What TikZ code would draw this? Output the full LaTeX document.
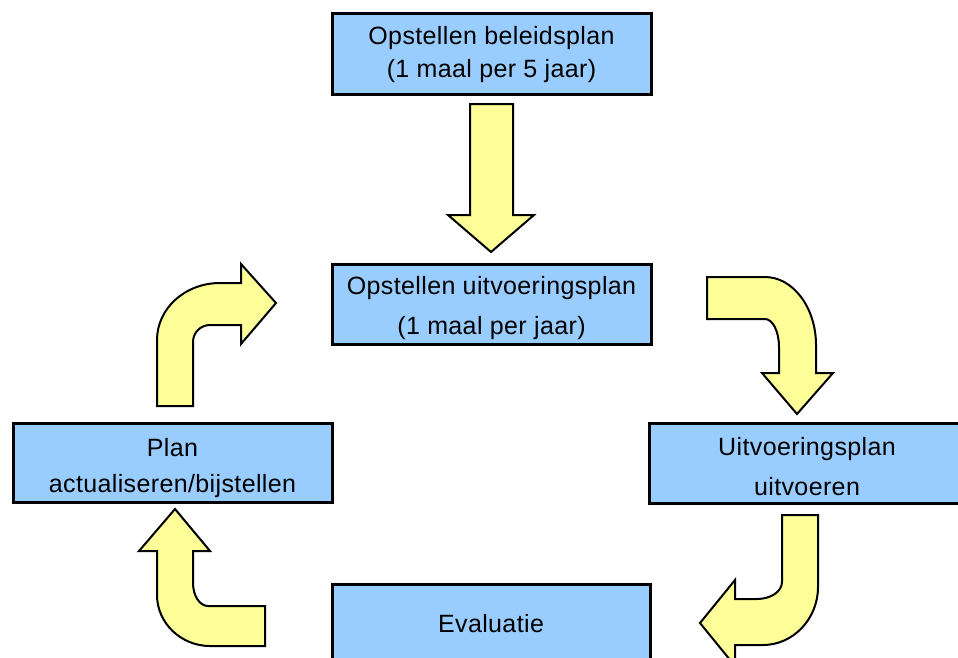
\documentclass[tikz,border=0pt]{standalone}
\usepackage{fontspec}
\setmainfont[LetterSpace=1.5]{Liberation Sans}
\definecolor{boxblue}{HTML}{99CCFF}
\definecolor{arrowyellow}{HTML}{FFFF99}
\newcommand{\tstrut}[1]{\rule{0pt}{#1pt}}
\begin{document}
\begin{tikzpicture}[x=1pt,y=-1pt,
  stagebox/.style={draw=black,line width=3pt,fill=boxblue,align=center,
    inner sep=0pt,font=\fontsize{25}{30}\selectfont,text=black},
  blockarrow/.style={draw=black,line width=2pt,fill=arrowyellow,line join=miter}]
\clip (0,0) rectangle (958,657);
\fill[white] (0,0) rectangle (958,657);
% boxes
\node[stagebox,minimum width=319,minimum height=81] (beleid) at (491.5,53.5)
  {\tstrut{21}Opstellen beleidsplan\\[3pt](1 maal per 5 jaar)};
\node[stagebox,minimum width=319,minimum height=80] (uitvplan) at (491.5,304)
  {\tstrut{26}Opstellen uitvoeringsplan\\[10pt](1 maal per jaar)};
\node[stagebox,minimum width=316,minimum height=80] (uitvoeren) at (807,463)
  {\tstrut{26}Uitvoeringsplan\\[10pt]uitvoeren};
\node[stagebox,minimum width=319,minimum height=79] (actual) at (172.5,462.5)
  {\tstrut{30}Plan\\[6pt]actualiseren/bijstellen};
\node[stagebox,minimum width=318,minimum height=80] (evaluatie) at (491,624)
  {Evaluatie};
% straight down arrow
\draw[blockarrow] (470,104) -- (513,104) -- (513,215) -- (534,215) -- (491,252)
  -- (448,215) -- (470,215) -- cycle;
% top-right bent arrow (uitvoeringsplan -> uitvoeren)
\draw[blockarrow] (707,277) -- (765,277)
  .. controls (793,277) and (816,307.5) .. (816,345)
  -- (816,373) -- (833,373) -- (797,414) -- (762,373) -- (779,373) -- (779,347)
  .. controls (779,331.5) and (772.7,319) .. (765,319)
  -- (707,319) -- cycle;
% bottom-right bent arrow (uitvoeren -> evaluatie)
\draw[blockarrow] (782,515) -- (818,515) -- (818,587)
  .. controls (818,619) and (793,645) .. (763,645)
  -- (735,645) -- (735,666) -- (700,623) -- (735,580) -- (735,599) -- (757,599)
  .. controls (770.8,599) and (782,591.4) .. (782,582)
  -- cycle;
% bottom-left bent arrow (evaluatie -> actualiseren)
\draw[blockarrow] (175,509) -- (210,551) -- (193,551) -- (193,583)
  .. controls (193,595.7) and (199.7,606) .. (208,606)
  -- (265,606) -- (265,646) -- (210,646)
  .. controls (181,646) and (157,623) .. (157,595)
  -- (157,551) -- (139,551) -- cycle;
% top-left bent arrow (actualiseren -> uitvoeringsplan)
\draw[blockarrow] (157,406) -- (193,406) -- (193,342)
  .. controls (193,332.6) and (200.6,325) .. (210,325)
  -- (241,325) -- (241,344) -- (276,303) -- (241,264) -- (241,283) -- (220,283)
  .. controls (185,283) and (157,308.5) .. (157,340)
  -- cycle;
\end{tikzpicture}
\end{document}
